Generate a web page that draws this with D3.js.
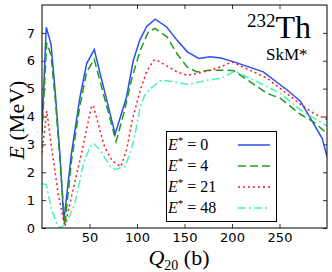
<!DOCTYPE html>
<html>
<head>
<meta charset="utf-8">
<script src="https://cdn.jsdelivr.net/npm/d3@7"></script>
<style>
  body { margin: 0; background: #fff; }
  svg text { fill: #000; }
</style>
</head>
<body>
<svg id="chart" width="332" height="272"></svg>
<script>
// E* values of the four curves (MeV)
var estar = ["0", "4", "21", "48"],
    colors = ["#2b4ff2", "#1f9a1f", "#ff1a1a", "#4cf2b8"],
    dashes = [null, "8,4", "2,3", "8,3,2,3"];

// energy curves, [Q20 (b), E (MeV)]
var curve0 = [[0, 3.6], [4.5, 7.2], [9.5, 6.6], [13.5, 5.06], [18.8, 2.68], [23, 0.25], [31, 2.68], [40, 4.7], [47, 5.9], [55, 6.4],
    [77, 3.37], [89, 4.7], [96, 6.0], [103, 6.74], [110, 7.22], [119, 7.49], [131, 7.22], [142, 6.74], [153, 6.32], [165, 6.08],
    [177, 6.14], [188, 6.1], [202, 5.96], [233, 5.6], [251, 5.13], [258, 4.95], [272, 4.55], [285, 3.8], [295, 3.21], [300, 2.56]];
var curve4 = [[0, 3.4], [5, 6.65], [9.5, 6.2], [14, 4.6], [19, 2.4], [24, 0.1], [31, 2.4], [40, 4.4], [47, 5.6], [55, 6.05],
    [78, 3.1], [86, 4.1], [95, 5.42], [103.5, 6.38], [112, 7.04], [119, 7.16], [131.6, 6.86], [142, 6.26], [152.7, 5.78], [163, 5.6],
    [177, 5.66], [195, 5.66], [202, 5.64], [237, 4.83], [251, 4.65], [272, 4.08], [286, 3.8], [300, 3.4]];
var curve21 = [[0, 2.7], [5, 4.2], [10, 2.9], [17, 1.24], [24, 0.05], [31, 1.12], [41.6, 2.68], [52, 4.35], [54, 4.4], [61, 3.5],
    [66, 2.9], [74, 2.4], [83, 2.2], [89, 2.8], [95, 3.87], [103.5, 4.95], [110, 5.6], [117.5, 6.02], [121, 6.02], [130, 5.84],
    [142, 5.6], [152.7, 5.48], [163, 5.54], [177, 5.66], [188, 5.78], [200, 5.96], [237, 5.37], [251, 5.0], [272, 4.44], [286, 4.11], [300, 3.9]];
var curve48 = [[0, 1.6], [4.5, 1.55], [10, 0.65], [17, 0.05], [19.5, 0], [25.7, 0.17], [34.6, 0.88], [43.7, 2.32], [50.7, 2.91], [54, 3.04],
    [61, 2.8], [72, 2.2], [77, 2.1], [87, 2.2], [92, 2.6], [97, 3.2], [103.5, 4.35], [108, 4.75], [114, 5.0], [124.6, 5.28], [131.5, 5.28],
    [152.7, 5.16], [159.7, 5.19], [174, 5.3], [188, 5.37], [202, 5.6], [205, 5.6], [237, 5.07], [251, 4.83], [272, 4.23], [300, 3.66]];
var curves = [curve0, curve4, curve21, curve48];

var xTicks = [50, 100, 150, 200, 250],
    yTicks = [0, 1, 2, 3, 4, 5, 6, 7];

var svg = d3.select("#chart"),
    L = 42, R = 327, T = 5, B = 228;

var x = d3.scaleLinear().domain([0, 300]).range([L, R]),
    y = d3.scaleLinear().domain([0, 8]).range([B, T]);

svg.append("clipPath").attr("id", "clip")
    .append("rect").attr("x", L).attr("y", T).attr("width", R - L).attr("height", B - T);

// ticks inside on all four sides
function tickStyle(g) {
    g.select(".domain").remove();
    g.selectAll(".tick line").attr("stroke", "#000").attr("stroke-width", 0.8);
    g.selectAll("text").style("font-family", "DejaVu Sans").style("font-size", "13px");
}
svg.append("g").attr("transform", "translate(0," + B + ")")
    .call(d3.axisBottom(x).tickValues(xTicks).tickSizeInner(-4).tickPadding(5))
    .call(tickStyle);
svg.append("g").attr("transform", "translate(0," + T + ")")
    .call(d3.axisTop(x).tickValues(xTicks).tickSizeInner(-4).tickFormat(""))
    .call(tickStyle);
svg.append("g").attr("transform", "translate(" + L + ",0)")
    .call(d3.axisLeft(y).tickValues(yTicks).tickSizeInner(-4).tickPadding(7))
    .call(tickStyle);
svg.append("g").attr("transform", "translate(" + R + ",0)")
    .call(d3.axisRight(y).tickValues(yTicks).tickSizeInner(-4).tickFormat(""))
    .call(tickStyle);

var line = d3.line().x(d => x(d[0])).y(d => y(d[1]));

svg.append("g").attr("clip-path", "url(#clip)")
    .selectAll("path").data(curves).enter()
    .append("path")
    .attr("d", line)
    .attr("fill", "none")
    .attr("stroke", (d, i) => colors[i])
    .attr("stroke-width", 1.5)
    .attr("stroke-dasharray", (d, i) => dashes[i]);

// frame
svg.append("rect").attr("x", L).attr("y", T).attr("width", R - L).attr("height", B - T)
    .attr("fill", "none").attr("stroke", "#000").attr("stroke-width", 1);

// axis labels
var ylab = svg.append("text")
    .attr("transform", "translate(24,120) rotate(-90)")
    .attr("text-anchor", "middle")
    .style("font-family", "Liberation Serif").style("font-size", "22px");
ylab.append("tspan").style("font-style", "italic").text("E");
ylab.append("tspan").text(" (MeV)");

var xlab = svg.append("text")
    .attr("x", 179).attr("y", 265)
    .attr("text-anchor", "middle")
    .style("font-family", "Liberation Serif").style("font-size", "22px");
xlab.append("tspan").style("font-style", "italic").text("Q");
xlab.append("tspan").attr("dy", 5).style("font-size", "14px").text("20");
xlab.append("tspan").attr("dy", -5).text(" (b)");

// nucleus and force
var title = svg.append("text").attr("x", 247).attr("y", 38)
    .style("font-family", "Liberation Serif");
title.append("tspan").attr("dy", -11).style("font-size", "19px").text("232");
title.append("tspan").attr("dy", 11).style("font-size", "32px").text("Th");
svg.append("text").attr("x", 266).attr("y", 60)
    .style("font-family", "Liberation Serif").style("font-size", "17px").text("SkM*");

// legend
var legend = svg.append("g");
legend.append("rect").attr("x", 166.5).attr("y", 131.5).attr("width", 110).attr("height", 90)
    .attr("fill", "#fff").attr("stroke", "#000").attr("stroke-width", 1);
var rowY = [145, 166, 187, 208];
estar.forEach(function (v, i) {
    var t = legend.append("text").attr("x", 168).attr("y", rowY[i] + 5)
        .style("font-family", "Liberation Serif").style("font-size", "16px");
    t.append("tspan").style("font-style", "italic").text("E");
    t.append("tspan").attr("dy", -6).style("font-size", "11px").text("*");
    t.append("tspan").attr("dy", 6).text(" = " + v);
    legend.append("line").attr("x1", 238).attr("x2", 270).attr("y1", rowY[i]).attr("y2", rowY[i])
        .attr("stroke", colors[i]).attr("stroke-width", 1.5).attr("stroke-dasharray", dashes[i]);
});
</script>
</body>
</html>
